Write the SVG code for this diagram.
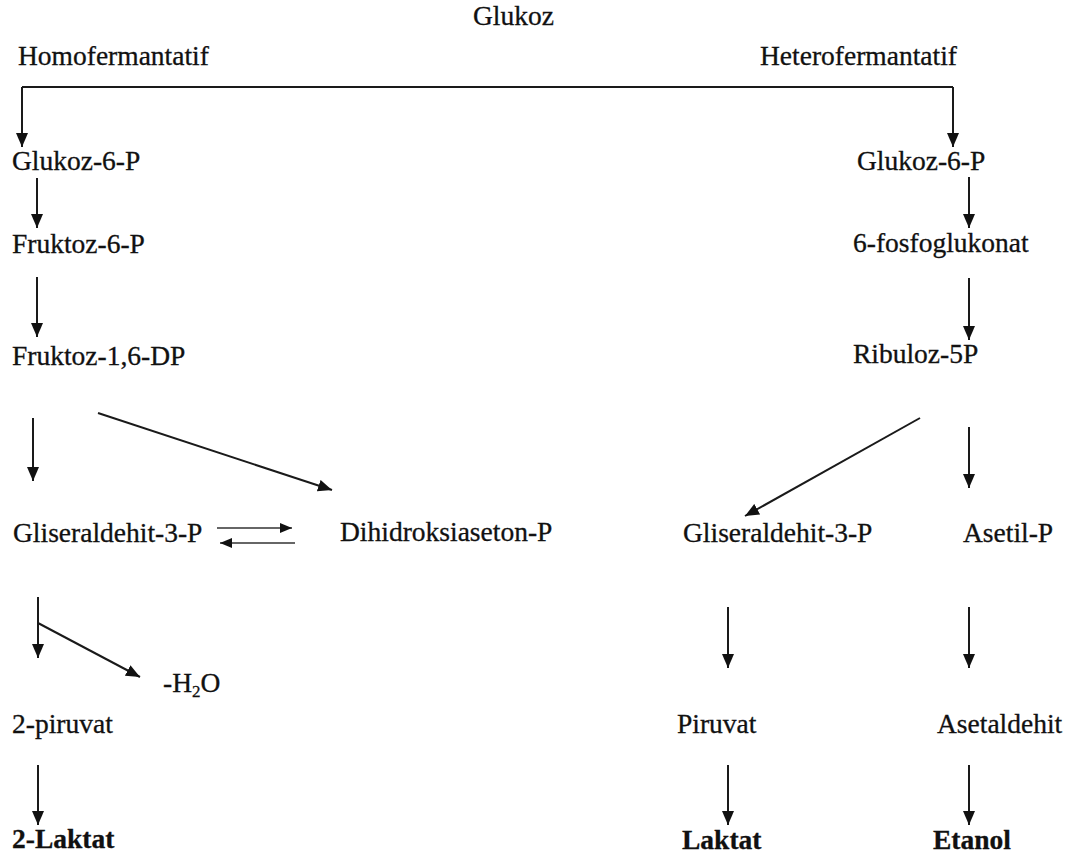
<svg xmlns="http://www.w3.org/2000/svg" width="1076" height="859" viewBox="0 0 1076 859">
<style>
text{font-family:"Liberation Serif","Times New Roman",serif;font-size:27.5px;fill:#111;stroke:#111;stroke-width:0.3}
.b{font-weight:bold}
.c{stroke:#1a1a1a;stroke-width:2;fill:none}
.cg{stroke:#666;stroke-width:2;fill:none}
</style>
<defs>
<marker id="ah" viewBox="0 0 14 12" refX="14" refY="6" markerWidth="14" markerHeight="12" markerUnits="userSpaceOnUse" orient="auto"><path d="M0,0 L14,6 L0,12 z" fill="#111"/></marker>
<marker id="as" viewBox="0 0 12 10" refX="12" refY="5" markerWidth="12" markerHeight="10" markerUnits="userSpaceOnUse" orient="auto"><path d="M0,0 L12,5 L0,10 z" fill="#111"/></marker>
</defs>
<g id="connectors">
<path class="c" d="M22,87 H953"/>
<path class="c" d="M22,87 V147" marker-end="url(#ah)"/>
<path class="c" d="M953,87 V147" marker-end="url(#ah)"/>
<path class="c" d="M37,178 V228" marker-end="url(#ah)"/>
<path class="c" d="M37,277 V337" marker-end="url(#ah)"/>
<path class="c" d="M33,418 V481" marker-end="url(#ah)"/>
<path class="c" d="M98,413 L332,490" marker-end="url(#ah)"/>
<path class="cg" d="M217,528 H292" marker-end="url(#as)"/>
<path class="cg" d="M295,543 H220" marker-end="url(#as)"/>
<path class="c" d="M38,597 V658" marker-end="url(#ah)"/>
<path class="c" d="M38,623 L140,677" marker-end="url(#ah)"/>
<path class="c" d="M38,765 V825" marker-end="url(#ah)"/>
<path class="c" d="M969,177 V228" marker-end="url(#ah)"/>
<path class="c" d="M969,278 V340" marker-end="url(#ah)"/>
<path class="c" d="M969,427 V488" marker-end="url(#ah)"/>
<path class="c" d="M920,418 L745,516" marker-end="url(#ah)"/>
<path class="c" d="M728,607 V668" marker-end="url(#ah)"/>
<path class="c" d="M969,607 V668" marker-end="url(#ah)"/>
<path class="c" d="M728,765 V825" marker-end="url(#ah)"/>
<path class="c" d="M969,765 V825" marker-end="url(#ah)"/>
</g>
<g id="n-glukoz"><text x="473" y="25">Glukoz</text></g>
<g id="n-homo"><text x="18" y="65">Homofermantatif</text></g>
<g id="n-hetero"><text x="760" y="65">Heterofermantatif</text></g>
<g id="n-g6p-l"><text x="12" y="170">Glukoz-6-P</text></g>
<g id="n-f6p"><text x="12" y="253">Fruktoz-6-P</text></g>
<g id="n-f16dp"><text x="12" y="365">Fruktoz-1,6-DP</text></g>
<g id="n-g3p-l"><text x="13" y="542">Gliseraldehit-3-P</text></g>
<g id="n-dhap"><text x="340" y="541">Dihidroksiaseton-P</text></g>
<g id="n-h2o"><text x="163" y="692">-H<tspan font-size="17" dy="5">2</tspan><tspan dy="-5">O</tspan></text></g>
<g id="n-piruvat-l"><text x="12" y="733">2-piruvat</text></g>
<g id="n-laktat-l"><text class="b" x="12" y="848">2-Laktat</text></g>
<g id="n-g6p-r"><text x="857" y="170">Glukoz-6-P</text></g>
<g id="n-6pg"><text x="853" y="252">6-fosfoglukonat</text></g>
<g id="n-ru5p"><text x="853" y="363">Ribuloz-5P</text></g>
<g id="n-g3p-r"><text x="683" y="542">Gliseraldehit-3-P</text></g>
<g id="n-asetilp"><text x="963" y="542">Asetil-P</text></g>
<g id="n-piruvat-r"><text x="677" y="733">Piruvat</text></g>
<g id="n-asetaldehit"><text x="937" y="733">Asetaldehit</text></g>
<g id="n-laktat-r"><text class="b" x="682" y="849">Laktat</text></g>
<g id="n-etanol"><text class="b" x="933" y="849">Etanol</text></g>
</svg>
